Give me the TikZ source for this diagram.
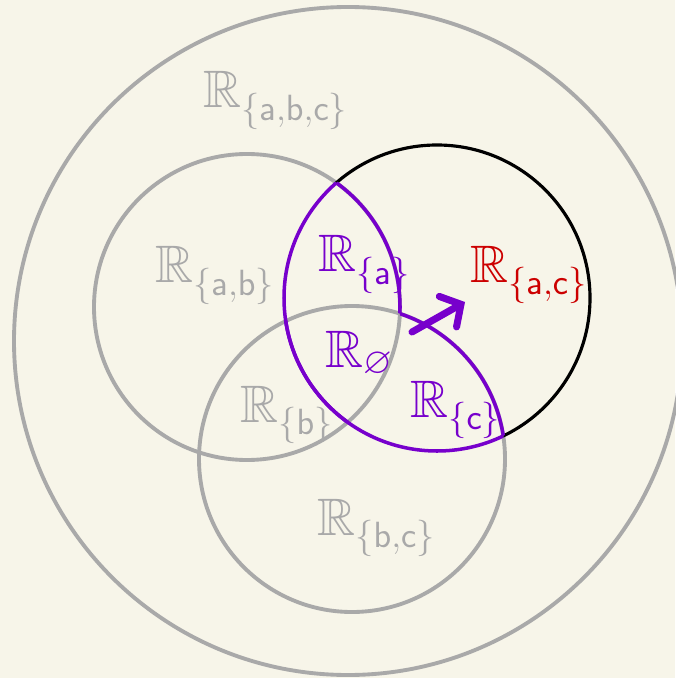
\documentclass[tikz,border=0pt]{standalone}
\usepackage{amsmath,amssymb}
\usepackage{tikz}
\usetikzlibrary{arrows.meta}
\usepackage{xcolor}

\definecolor{paper}{HTML}{F7F5E9}
\definecolor{setgray}{HTML}{A9A9A9}
\definecolor{setpurple}{HTML}{7700CC}
\definecolor{setred}{HTML}{CC0000}
\newcommand{\Rsub}[1]{\mathbb{R}_{\{\mathsf{#1}\}}}

\begin{document}
\begin{tikzpicture}[x=0.02cm, y=-0.02cm,
    grayline/.style={draw=setgray, line width=2.2pt},
    purpleline/.style={draw=setpurple, line width=2pt},
    lbl/.style={anchor=base west, inner sep=0pt, font=\fontsize{30}{34}\selectfont}]
  % paper
  \fill[paper] (0,0) rectangle (675,678);
  \useasboundingbox (0,0) rectangle (675,678);

  % outer set and the gray circles
  \draw[grayline] (348,341) circle (334);
  \draw[grayline] (247,307) circle (153);
  \draw[grayline] (352,459) circle (153);

  % black part of the right circle (outside both gray ones)
  \begin{scope}[even odd rule]
    \clip (0,0) rectangle (675,678) (247,307) circle (153);
    \clip (0,0) rectangle (675,678) (352,459) circle (153);
    \draw[black, line width=1.8pt] (437,298) circle (153);
  \end{scope}

  % purple outline of the region inside the right circle
  \begin{scope}
    \clip (247,307) circle (153);
    \draw[purpleline] (437,298) circle (153);
  \end{scope}
  \begin{scope}
    \clip (352,459) circle (153);
    \draw[purpleline] (437,298) circle (153);
  \end{scope}
  \begin{scope}[even odd rule]
    \clip (437,298) circle (153);
    \clip (0,0) rectangle (675,678) (352,459) circle (153);
    \draw[purpleline] (247,307) circle (153);
  \end{scope}
  \begin{scope}[even odd rule]
    \clip (437,298) circle (153);
    \clip (0,0) rectangle (675,678) (247,307) circle (153);
    \draw[purpleline] (352,459) circle (153);
  \end{scope}

  % labels
  \node[lbl, setgray] (lblABC) at (203,108) {$\Rsub{a,b,c}$};
  \node[lbl, setgray] (lblAB) at (155,283) {$\Rsub{a,b}$};
  \node[lbl, setgray] (lblB) at (240,422) {$\Rsub{b}$};
  \node[lbl, setgray] (lblBC) at (317,535) {$\Rsub{b,c}$};
  \node[lbl, setpurple] (lblA) at (318,272) {$\Rsub{a}$};
  \node[lbl, setpurple] (lblEmpty) at (325,367) {$\mathbb{R}_{\varnothing}$};
  \node[lbl, setpurple] (lblC) at (410,417) {$\Rsub{c}$};
  \node[lbl, setred] (lblAC) at (470,282) {$\Rsub{a,c}$};

  % arrow
  \coordinate (arrS) at (412,332);
  \coordinate (arrE) at (465,302);
  \draw[setpurple, line width=4pt, line cap=round,
    -{Straight Barb[length=0.3cm, width=0.7cm, line cap=round]}] (arrS) -- (arrE);
\end{tikzpicture}
\end{document}
